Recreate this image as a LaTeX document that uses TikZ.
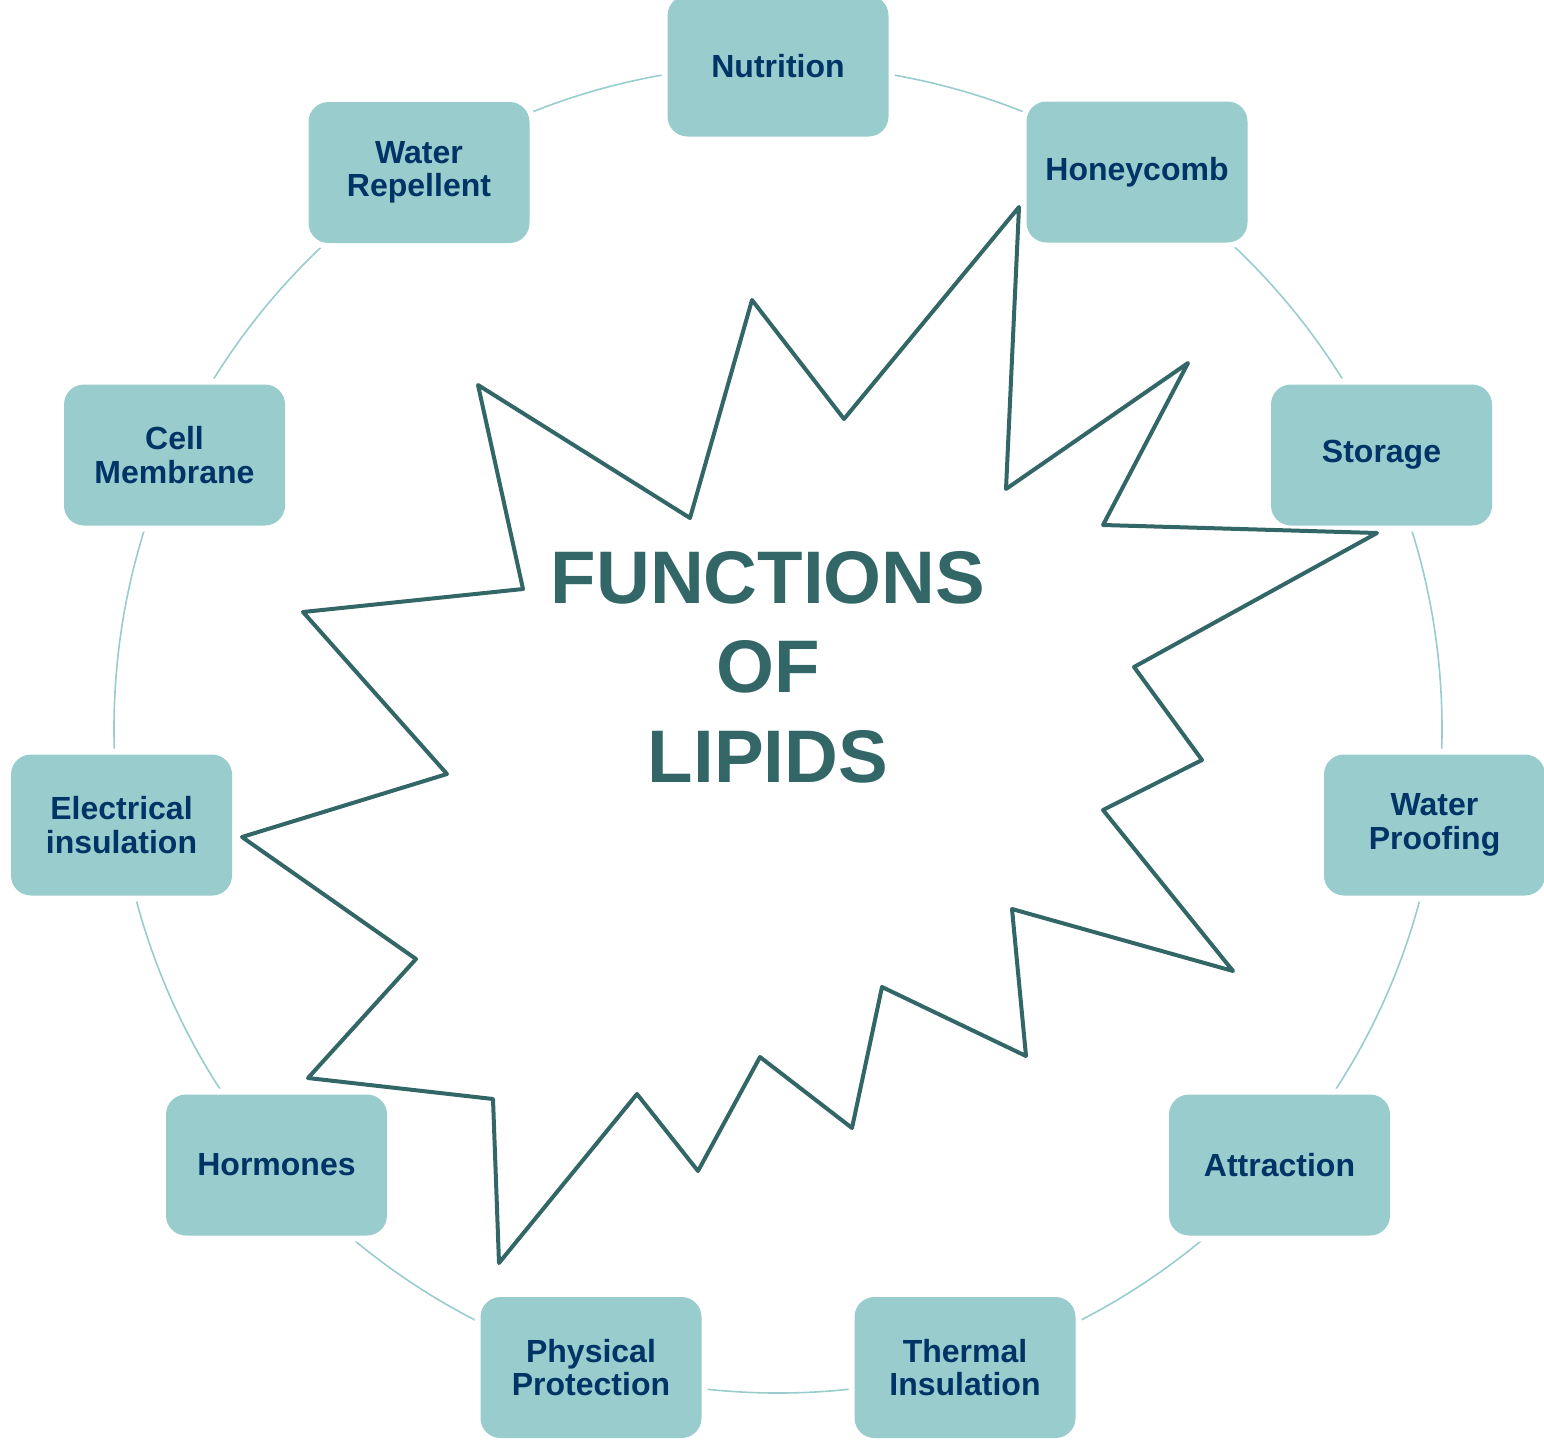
\documentclass[tikz,border=0pt]{standalone}
\usepackage{fontspec}
\setmainfont{Liberation Sans}
\definecolor{boxfill}{HTML}{99CCCC}
\definecolor{boxtext}{HTML}{003366}
\definecolor{starline}{HTML}{336666}
\definecolor{ringline}{HTML}{99CCCC}
\begin{document}
\begin{tikzpicture}[x=1pt,y=-1pt,
  fnbox/.style={preaction={draw=white,line width=12pt},fill=boxfill,draw=none,
    rounded corners=20pt,minimum width=221pt,minimum height=141pt,
    align=center,text=boxtext,font=\fontsize{32}{33.5}\selectfont\bfseries,inner sep=0pt},
  ring/.style={draw=ringline,line width=1.6pt},
  burst/.style={draw=starline,line width=4pt,line join=round},
  titletext/.style={text=starline,align=center,font=\fontsize{74.5}{89.5}\selectfont\bfseries}]
\useasboundingbox (0,0) rectangle (1544,1440);
\coordinate (ctr) at (778,729);
\draw[ring] (ctr) circle[radius=664];
\node[fnbox] (nutrition) at (778,66) {Nutrition};
\node[fnbox] (honeycomb) at (1137,172) {Honeycomb};
\node[fnbox] (storage) at (1381.5,455) {Storage};
\node[fnbox] (proofing) at (1434.5,825) {Water\\Proofing};
\node[fnbox] (attraction) at (1279.5,1165) {Attraction};
\node[fnbox] (thermal) at (965,1367.5) {Thermal\\Insulation};
\node[fnbox] (physical) at (591,1367.5) {Physical\\Protection};
\node[fnbox] (hormones) at (276.5,1165) {Hormones};
\node[fnbox] (electrical) at (121.5,825) {Electrical\\insulation};
\node[fnbox] (membrane) at (174.5,455) {Cell\\Membrane};
\node[fnbox] (repellent) at (419,172.5) {Water\\Repellent};
\draw[burst] (1019,207) -- (1006,489) -- (1188,363) -- (1103,525) -- (1377,533)
  -- (1134,667) -- (1202,760) -- (1103,810) -- (1233,971) -- (1012,909)
  -- (1026,1056) -- (882,987) -- (852,1128) -- (760,1057) -- (698,1171)
  -- (637,1094) -- (499,1263) -- (493,1099) -- (308,1078) -- (416,959)
  -- (242,837) -- (447,774) -- (303,612) -- (523,589) -- (478,385)
  -- (690,518) -- (752,300) -- (844,419) -- cycle;
\node[titletext] (title) at (768,667) {FUNCTIONS\\OF\\LIPIDS};
\end{tikzpicture}
\end{document}
